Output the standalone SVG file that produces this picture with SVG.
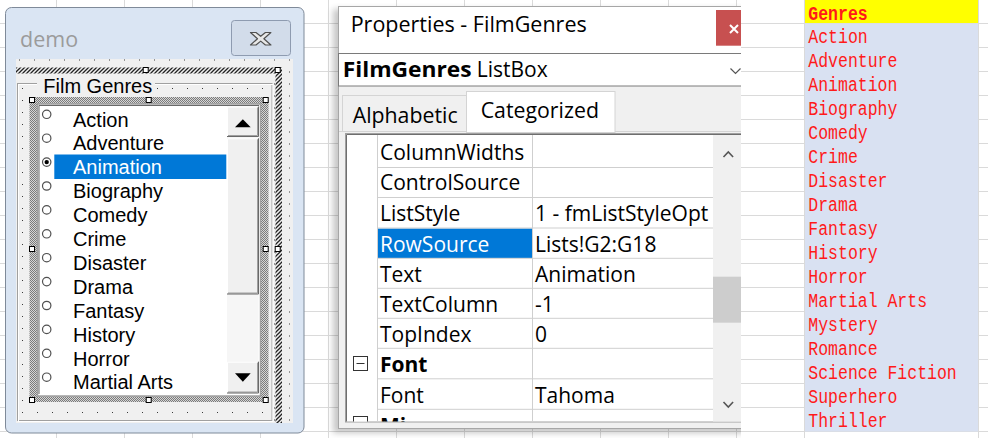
<svg xmlns="http://www.w3.org/2000/svg" width="988" height="438" viewBox="0 0 988 438">
<style>
.grid line{stroke:#dadada;stroke-width:1}
.seg{font-family:"Open Sans","Noto Sans","Liberation Sans",sans-serif;fill:#000}
.tah{font-family:"Liberation Sans",Arial,sans-serif;font-size:20px;fill:#000}
.mono{font-family:"Liberation Mono","Courier New",monospace;font-size:16.5px;fill:#ff1a1a}
.handle{fill:#fff;stroke:#000;stroke-width:1}
.radio{fill:#fff;stroke:#505050;stroke-width:1.2}
.pline{stroke:#cfcfcf;stroke-width:1}
.dk{stroke:#696969;fill:none}
.md{stroke:#a0a0a0;fill:none}
.wt{stroke:#fff;fill:none}
.btn{fill:#f0f0f0}
</style>
<defs>
<pattern id="hatch" width="4" height="4" patternUnits="userSpaceOnUse">
<rect width="4" height="4" fill="#f0f0f0"/>
<path d="M-1,1 L1,-1 M0,4 L4,0 M3,5 L5,3" stroke="#222" stroke-width="1.3"/>
</pattern>
<pattern id="chk" width="2" height="2" patternUnits="userSpaceOnUse">
<rect width="2" height="2" fill="#d6d6d6"/>
<rect width="1" height="1" fill="#7a7a7a"/>
<rect x="1" y="1" width="1" height="1" fill="#7a7a7a"/>
</pattern>
<pattern id="formdots" x="4" y="59.5" width="15" height="12" patternUnits="userSpaceOnUse">
<rect width="15" height="12" fill="#f0f0f0"/>
<rect x="0" y="0" width="1" height="1" fill="#3a3a3a"/>
</pattern>
<pattern id="framedots" x="7" y="88" width="15" height="12" patternUnits="userSpaceOnUse">
<rect width="15" height="12" fill="#f0f0f0"/>
<rect x="0" y="0" width="1" height="1" fill="#3a3a3a"/>
</pattern>
<filter id="blur" x="-10%" y="-10%" width="120%" height="120%">
<feGaussianBlur stdDeviation="3"/>
</filter>
<clipPath id="clipProps"><rect x="0" y="0" width="741" height="438"/></clipPath>
<clipPath id="clipGrid"><rect x="347" y="135" width="366" height="286.5"/></clipPath>
<clipPath id="clipVal"><rect x="533" y="135" width="179.5" height="286.5"/></clipPath>
</defs>

<rect width="988" height="438" fill="#fff"/>

<g id="sheet-grid" class="grid">
<line x1="56.5" y1="0" x2="56.5" y2="438"/>
<line x1="124.5" y1="0" x2="124.5" y2="438"/>
<line x1="192.5" y1="0" x2="192.5" y2="438"/>
<line x1="260.5" y1="0" x2="260.5" y2="438"/>
<line x1="328.5" y1="0" x2="328.5" y2="438"/>
<line x1="396.5" y1="0" x2="396.5" y2="438"/>
<line x1="464.5" y1="0" x2="464.5" y2="438"/>
<line x1="532.5" y1="0" x2="532.5" y2="438"/>
<line x1="600.5" y1="0" x2="600.5" y2="438"/>
<line x1="668.5" y1="0" x2="668.5" y2="438"/>
<line x1="736.5" y1="0" x2="736.5" y2="438"/>
<line x1="804.5" y1="0" x2="804.5" y2="438"/>
<line x1="978.5" y1="0" x2="978.5" y2="438"/>
<line x1="0" y1="23.5" x2="988" y2="23.5"/>
<line x1="0" y1="47.5" x2="988" y2="47.5"/>
<line x1="0" y1="71.5" x2="988" y2="71.5"/>
<line x1="0" y1="95.5" x2="988" y2="95.5"/>
<line x1="0" y1="119.5" x2="988" y2="119.5"/>
<line x1="0" y1="143.5" x2="988" y2="143.5"/>
<line x1="0" y1="167.5" x2="988" y2="167.5"/>
<line x1="0" y1="191.5" x2="988" y2="191.5"/>
<line x1="0" y1="215.5" x2="988" y2="215.5"/>
<line x1="0" y1="239.5" x2="988" y2="239.5"/>
<line x1="0" y1="263.5" x2="988" y2="263.5"/>
<line x1="0" y1="287.5" x2="988" y2="287.5"/>
<line x1="0" y1="311.5" x2="988" y2="311.5"/>
<line x1="0" y1="335.5" x2="988" y2="335.5"/>
<line x1="0" y1="359.5" x2="988" y2="359.5"/>
<line x1="0" y1="383.5" x2="988" y2="383.5"/>
<line x1="0" y1="407.5" x2="988" y2="407.5"/>
<line x1="0" y1="431.5" x2="988" y2="431.5"/>
</g>

<g id="genre-column">
<rect x="805" y="0" width="173" height="23" fill="#ffff00"/>
<rect x="805" y="23.5" width="173" height="408" fill="#d9e1f2"/>
<g transform="scale(1 1.2)" class="mono">
<text x="808.3" y="16.67" font-weight="bold">Genres</text>
<text x="808.3" y="36.08">Action</text>
<text x="808.3" y="56.08">Adventure</text>
<text x="808.3" y="76.08">Animation</text>
<text x="808.3" y="96.08">Biography</text>
<text x="808.3" y="116.08">Comedy</text>
<text x="808.3" y="136.08">Crime</text>
<text x="808.3" y="156.08">Disaster</text>
<text x="808.3" y="176.08">Drama</text>
<text x="808.3" y="196.08">Fantasy</text>
<text x="808.3" y="216.08">History</text>
<text x="808.3" y="236.08">Horror</text>
<text x="808.3" y="256.08">Martial Arts</text>
<text x="808.3" y="276.08">Mystery</text>
<text x="808.3" y="296.08">Romance</text>
<text x="808.3" y="316.08">Science Fiction</text>
<text x="808.3" y="336.08">Superhero</text>
<text x="808.3" y="356.08">Thriller</text>
</g>
</g>

<g id="demo-window">
<rect x="5.5" y="7.5" width="298.5" height="425.5" rx="6" fill="#dae5f3" stroke="#7f8a99"/>
<text x="20" y="47" font-family="'Open Sans','Noto Sans',sans-serif" font-size="21.5" fill="#9b9b9b">demo</text>
<g id="demo-close">
<rect x="231.5" y="20.5" width="59" height="35" rx="3" fill="#d2dcea" stroke="#8e9bb0"/>
<polygon points="250.5,32.5 256,32.5 260.7,36.3 265.4,32.5 270.9,32.5 263.9,38.7 270.9,45 265.4,45 260.7,41.1 256,45 250.5,45 257.5,38.7" fill="#e8e8e8" stroke="#505050" stroke-width="1.2" stroke-linejoin="round"/>
</g>
<rect x="16" y="59" width="277" height="364" fill="url(#formdots)"/>
<g id="frame-selection">
<rect x="16" y="67.5" width="266" height="6" fill="url(#hatch)"/>
<rect x="275.5" y="67.5" width="6.5" height="355.5" fill="url(#hatch)"/>
</g>
<g id="frame-film-genres">
<rect x="17" y="83.5" width="256" height="338" fill="url(#framedots)"/>
<rect x="17.5" y="83.5" width="254.5" height="337" fill="none" stroke="#a0a0a0"/>
<rect x="18.5" y="84.5" width="254.5" height="337" fill="none" stroke="#ffffff"/>
<rect x="37" y="76" width="118" height="14" fill="#f0f0f0"/>
<text class="tah" x="43.3" y="93.3" font-size="19">Film Genres</text>
</g>
<g id="listbox-selection">
<rect x="29.5" y="97" width="239" height="305" fill="url(#chk)"/>
</g>
<g id="listbox-filmgenres">
<rect x="37.5" y="104" width="223" height="292" fill="#fff" stroke="#a0a0a0" stroke-width="1.5"/>
<path d="M39,394 V105.5 H259" stroke="#696969" fill="none"/>
<rect x="54.3" y="154.5" width="172" height="24.5" fill="#0078d7"/>
<g class="tah">
<text x="73" y="126.5">Action</text>
<text x="73" y="150.4">Adventure</text>
<text x="73" y="174.3" fill="#fff">Animation</text>
<text x="73" y="198.2">Biography</text>
<text x="73" y="222.1">Comedy</text>
<text x="73" y="246">Crime</text>
<text x="73" y="269.9">Disaster</text>
<text x="73" y="293.8">Drama</text>
<text x="73" y="317.7">Fantasy</text>
<text x="73" y="341.6">History</text>
<text x="73" y="365.5">Horror</text>
<text x="73" y="389.4">Martial Arts</text>
</g>
<g class="radio">
<circle cx="46.7" cy="114.3" r="4.2"/>
<circle cx="46.7" cy="138.2" r="4.2"/>
<circle cx="46.7" cy="162.1" r="4.2"/>
<circle cx="46.7" cy="186" r="4.2"/>
<circle cx="46.7" cy="209.9" r="4.2"/>
<circle cx="46.7" cy="233.8" r="4.2"/>
<circle cx="46.7" cy="257.7" r="4.2"/>
<circle cx="46.7" cy="281.6" r="4.2"/>
<circle cx="46.7" cy="305.5" r="4.2"/>
<circle cx="46.7" cy="329.4" r="4.2"/>
<circle cx="46.7" cy="353.3" r="4.2"/>
<circle cx="46.7" cy="377.2" r="4.2"/>
</g>
<circle cx="46.7" cy="162.1" r="2.2" fill="#000"/>
<g id="listbox-scrollbar">
<rect x="227" y="106.5" width="31.5" height="287" fill="#f6f6f6"/>
<rect class="btn" x="227" y="106.5" width="31.5" height="30.5"/>
<path class="wt" d="M227.5,136 V107 H257.5"/>
<path class="md" d="M228,135.5 H257.5 V107.5"/>
<path class="dk" d="M227,136.5 H258.5 V106.5"/>
<polygon points="235,127.3 250.7,127.3 242.85,119.3" fill="#000"/>
<rect class="btn" x="227" y="138.3" width="31.5" height="156"/>
<path class="wt" d="M227.5,293.5 V138.8 H257.5"/>
<path class="md" d="M228,293 H257.5 V139.3"/>
<path class="dk" d="M227,294 H258.5 V138.3"/>
<rect class="btn" x="227" y="361.7" width="31.5" height="31.5"/>
<path class="wt" d="M227.5,392.5 V362.2 H257.5"/>
<path class="md" d="M228,392 H257.5 V362.7"/>
<path class="dk" d="M227,393 H258.5 V361.7"/>
<polygon points="235,373.3 250.7,373.3 242.85,381.7" fill="#000"/>
</g>
</g>
<g id="handles">
<rect class="handle" x="143.2" y="67.5" width="5" height="5"/>
<rect class="handle" x="275.2" y="67.5" width="5" height="5"/>
<rect class="handle" x="275.2" y="246.5" width="5" height="5"/>
<rect class="handle" x="29.5" y="97.5" width="5" height="5"/>
<rect class="handle" x="146.2" y="97.5" width="5" height="5"/>
<rect class="handle" x="263.2" y="97.5" width="5" height="5"/>
<rect class="handle" x="29.5" y="246.5" width="5" height="5"/>
<rect class="handle" x="263.2" y="246.5" width="5" height="5"/>
<rect class="handle" x="29.5" y="397.5" width="5" height="5"/>
<rect class="handle" x="146.2" y="397.5" width="5" height="5"/>
<rect class="handle" x="263.2" y="397.5" width="5" height="5"/>
</g>
</g>

<g id="properties-window" clip-path="url(#clipProps)">
<rect x="333" y="9" width="420" height="424" fill="#000" opacity="0.22" filter="url(#blur)"/>
<rect x="338.5" y="6.5" width="420" height="422" fill="#f0f0f0" stroke="#a6a6a6"/>
<rect x="339" y="7" width="410" height="46" fill="#fff"/>
<text class="seg" x="350.7" y="31.7" font-size="21.5">Properties - FilmGenres</text>
<rect x="716" y="10" width="40" height="35.7" fill="#c75050"/>
<path d="M730,25 L738,33 M738,25 L730,33" stroke="#fff" stroke-width="2"/>
<g id="object-combo">
<rect x="338.5" y="53.5" width="420" height="32.5" fill="#fff" stroke="#7a7a7a"/>
<text class="seg" x="342.7" y="77.3" font-size="21" font-weight="bold" textLength="129" lengthAdjust="spacingAndGlyphs">FilmGenres</text>
<text class="seg" x="476.7" y="77.3" font-size="21">ListBox</text>
<path d="M730.5,68.5 L735.5,73.5 L740.5,68.5" stroke="#555" fill="none" stroke-width="1.2"/>
</g>
<g id="tabs">
<line x1="339" y1="131.5" x2="741" y2="131.5" stroke="#d4d4d4"/>
<rect x="342.5" y="95.5" width="124" height="36" fill="#f0f0f0" stroke="#d4d4d4"/>
<rect x="466.5" y="91.5" width="148.5" height="41" fill="#fff" stroke="#d4d4d4"/>
<text class="seg" x="352.7" y="122.7" font-size="21.3">Alphabetic</text>
<text class="seg" x="480.7" y="118.3" font-size="21.3">Categorized</text>
</g>
<g id="property-grid">
<rect x="345.5" y="133.5" width="400" height="288.5" fill="#fff" stroke="#a0a0a0"/>
<path d="M346.5,421.5 V134.5 H741" stroke="#6e6e6e" fill="none"/>
<rect x="378" y="228.5" width="154.3" height="29.5" fill="#0078d7"/>
<g clip-path="url(#clipGrid)">
<g class="pline">
<line x1="377.5" y1="135" x2="377.5" y2="422"/>
<line x1="532.5" y1="135" x2="532.5" y2="422"/>
<line x1="378" y1="167.5" x2="713" y2="167.5"/>
<line x1="378" y1="197.5" x2="713" y2="197.5"/>
<line x1="378" y1="228" x2="713" y2="228"/>
<line x1="378" y1="258.3" x2="713" y2="258.3"/>
<line x1="378" y1="288.3" x2="713" y2="288.3"/>
<line x1="378" y1="318.3" x2="713" y2="318.3"/>
<line x1="378" y1="348.3" x2="713" y2="348.3"/>
<line x1="378" y1="378.8" x2="713" y2="378.8"/>
<line x1="378" y1="409.3" x2="713" y2="409.3"/>
</g>
<g class="seg" font-size="21">
<text x="380" y="160">ColumnWidths</text>
<text x="380" y="190.3">ControlSource</text>
<text x="380" y="220.6">ListStyle</text>
<text x="380" y="251.7" fill="#fff">RowSource</text>
<text x="380" y="282">Text</text>
<text x="380" y="312">TextColumn</text>
<text x="380" y="342">TopIndex</text>
<text x="380" y="372" font-weight="bold">Font</text>
<text x="380" y="402.5">Font</text>
<text x="380" y="432.5" font-weight="bold">Mi</text>
</g>
<g class="seg" font-size="21" clip-path="url(#clipVal)">
<text x="535" y="220.6">1 - fmListStyleOpt</text>
<text x="535" y="251.7">Lists!G2:G18</text>
<text x="535" y="282">Animation</text>
<text x="535" y="312">-1</text>
<text x="535" y="342">0</text>
<text x="535" y="402.5">Tahoma</text>
</g>
<rect x="353.5" y="356.5" width="14" height="14" fill="#fff" stroke="#333"/>
<line x1="356.5" y1="363.5" x2="364.5" y2="363.5" stroke="#333"/>
<rect x="353.5" y="416.5" width="14" height="14" fill="#fff" stroke="#333"/>
</g>
<g id="grid-scrollbar">
<rect x="713" y="135" width="28" height="286.5" fill="#f0f0f0"/>
<rect x="713" y="276.7" width="28" height="46" fill="#cdcdcd"/>
<path d="M723.5,157 L728.3,152 L733.1,157" stroke="#555" stroke-width="1.6" fill="none"/>
<path d="M723.5,402 L728.3,407 L733.1,402" stroke="#555" stroke-width="1.6" fill="none"/>
</g>
</g>
</g>
</svg>
